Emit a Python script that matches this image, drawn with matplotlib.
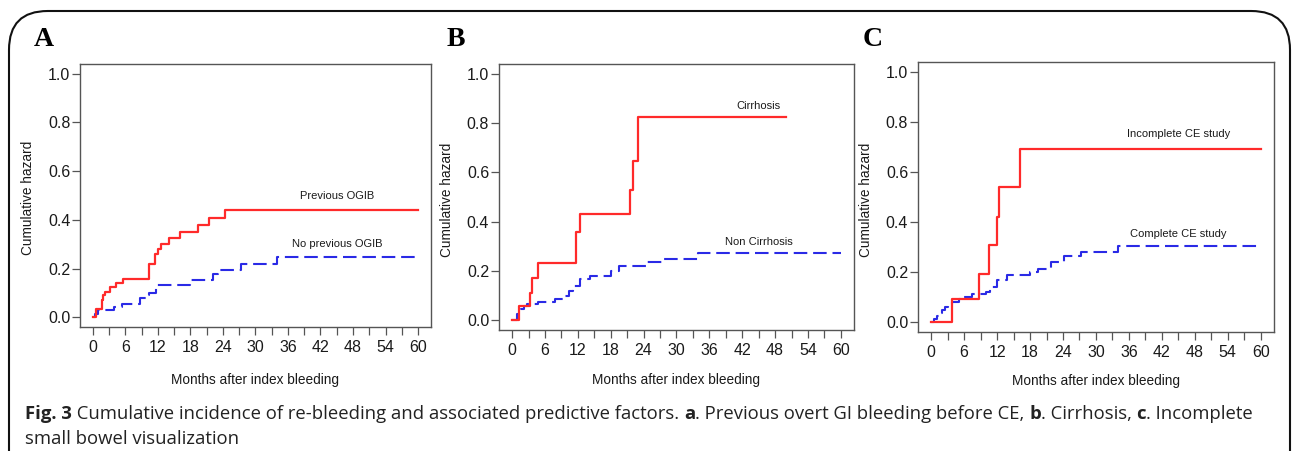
import matplotlib
matplotlib.use("Agg")
import matplotlib.pyplot as plt
from matplotlib.patches import FancyBboxPatch

# A: previous OGIB / no previous OGIB
a_prev_t = [0, 0.5, 1.6, 1.9, 2.2, 3.1, 4.2, 5.5, 10.3, 11.5, 12.0, 12.6, 14.0, 16.0, 19.4, 21.4, 24.4, 60]
a_prev_y = [0, 0.034, 0.07, 0.09, 0.105, 0.123, 0.14, 0.159, 0.219, 0.26, 0.279, 0.30, 0.324, 0.349, 0.378, 0.407, 0.441, 0.441]
a_none_t = [0, 0.4, 0.9, 3.9, 5.4, 8.6, 9.7, 10.4, 11.7, 17.9, 22.1, 23.1, 27.4, 33.9, 60]
a_none_y = [0, 0.015, 0.028, 0.042, 0.056, 0.077, 0.093, 0.10, 0.131, 0.153, 0.176, 0.194, 0.219, 0.248, 0.248]

# B: cirrhosis / non cirrhosis
b_cir_t = [0, 1.3, 3.2, 3.6, 4.7, 11.7, 12.4, 21.5, 22.0, 23.0, 50]
b_cir_y = [0, 0.057, 0.111, 0.172, 0.231, 0.358, 0.43, 0.528, 0.645, 0.824, 0.824]
b_non_t = [0, 0.8, 1.6, 2.2, 2.8, 4.8, 7.8, 9.6, 10.3, 11.2, 12.3, 14.2, 18.1, 19.5, 24.6, 27.3, 34.0, 60]
b_non_y = [0, 0.025, 0.047, 0.058, 0.065, 0.075, 0.086, 0.097, 0.12, 0.14, 0.166, 0.18, 0.198, 0.218, 0.236, 0.25, 0.272, 0.272]

# C: incomplete / complete CE study
c_inc_t = [0, 3.75, 8.8, 10.6, 11.9, 12.3, 16.1, 60]
c_inc_y = [0, 0.092, 0.191, 0.307, 0.421, 0.539, 0.69, 0.69]
c_com_t = [0, 0.5, 1.0, 1.5, 2.0, 2.5, 3.0, 3.8, 5.0, 6.0, 7.5, 10.0, 10.8, 12.0, 13.8, 18.0, 19.5, 21.8, 24.2, 27.3, 34.0, 60]
c_com_y = [0, 0.012, 0.024, 0.036, 0.047, 0.058, 0.068, 0.08, 0.09, 0.1, 0.11, 0.12, 0.14, 0.169, 0.188, 0.2, 0.212, 0.239, 0.263, 0.281, 0.303, 0.303]

panels = [
    ("A", a_prev_t, a_prev_y, a_none_t, a_none_y, "Previous OGIB", 0.50, "No previous OGIB", 0.30),
    ("B", b_cir_t, b_cir_y, b_non_t, b_non_y, "Cirrhosis", 0.87, "Non Cirrhosis", 0.317),
    ("C", c_inc_t, c_inc_y, c_com_t, c_com_y, "Incomplete CE study", 0.75, "Complete CE study", 0.353),
]
# axes rectangles [left, bottom, width, height] in figure fraction
rects = [
    [0.0619, 0.275, 0.2717, 0.583],
    [0.3862, 0.2683, 0.2748, 0.590],
    [0.7105, 0.2639, 0.2755, 0.5987],
]
letter_x = [0.026, 0.346, 0.668]
xlab_y = [-0.175, -0.16, -0.157]

plt.rcParams['font.family'] = ['Liberation Sans', 'DejaVu Sans']
fig = plt.figure(figsize=(12.92, 4.51), dpi=100)

red = "#ff2a2a"
blue = "#2a2ae6"
gray = "#555555"

for (lab, t1, y1, t2, y2, txt1, ty1, txt2, ty2), r, lx, xy in zip(panels, rects, letter_x, xlab_y):
    ax = fig.add_axes(r)
    ax.step(t2, y2, where="post", color=blue, lw=1.5, dashes=(6.5, 2.8))
    ax.step(t1, y1, where="post", color=red, lw=1.6)
    ax.set_xlim(-2.4, 62.4)
    ax.set_ylim(-0.04, 1.04)
    ax.set_xticks(range(0, 61, 6))
    ax.set_xticks(range(3, 60, 6), minor=True)
    ax.set_yticks([0, 0.2, 0.4, 0.6, 0.8, 1.0])
    ax.set_yticklabels(["0.0", "0.2", "0.4", "0.6", "0.8", "1.0"])
    ax.tick_params(which="both", length=5.5, width=0.9, color=gray, labelsize=11.5, labelcolor="#1a1a1a")
    ax.tick_params(axis="y", pad=1.5)
    ax.tick_params(axis="x", pad=4)
    for s in ax.spines.values():
        s.set_color(gray)
        s.set_linewidth(1.0)
    ax.set_xlabel("Months after index bleeding", fontsize=9.8, color="#1a1a1a")
    ax.set_ylabel("Cumulative hazard", fontsize=9.8, color="#1a1a1a")
    ax.xaxis.set_label_coords(0.5, xy)
    ax.yaxis.set_label_coords(-0.127, 0.49)
    ax.text(45, ty1, txt1, fontsize=8, ha="center", va="center", color="#1a1a1a")
    ax.text(45, ty2, txt2, fontsize=8, ha="center", va="center", color="#1a1a1a")
    fig.text(lx, 0.913, lab, fontsize=20, fontweight="bold", family="Liberation Serif",
             ha="left", va="center")

# rounded frame around the figure
frame = FancyBboxPatch((9 / 1292, -0.2), 1281 / 1292, 1.2 - 11 / 451,
                       boxstyle="round,pad=0,rounding_size=0.03",
                       transform=fig.transFigure, fill=False, ec="#111111", lw=1.5,
                       mutation_aspect=1292 / 451)
fig.patches.append(frame)

# caption with bold pieces
def rich_line(x, y, parts, size):
    r = fig.canvas.get_renderer()
    for s, w in parts:
        t = fig.text(x, y, s, fontsize=size, fontweight=w, family="Open Sans",
                     color="#222222", ha="left", va="baseline")
        x += t.get_window_extent(r).width / fig.bbox.width

cap1 = [("Fig. 3", "bold"),
        (" Cumulative incidence of re-bleeding and associated predictive factors. ", "normal"),
        ("a", "bold"), (". Previous overt GI bleeding before CE, ", "normal"),
        ("b", "bold"), (". Cirrhosis, ", "normal"),
        ("c", "bold"), (". Incomplete", "normal")]
cap2 = [("small bowel visualization", "normal")]
rich_line(25 / 1292, 1 - 419 / 451, cap1, 13.3)
rich_line(25 / 1292, 1 - 444 / 451, cap2, 13.3)

fig.savefig("out.png", dpi=100)
